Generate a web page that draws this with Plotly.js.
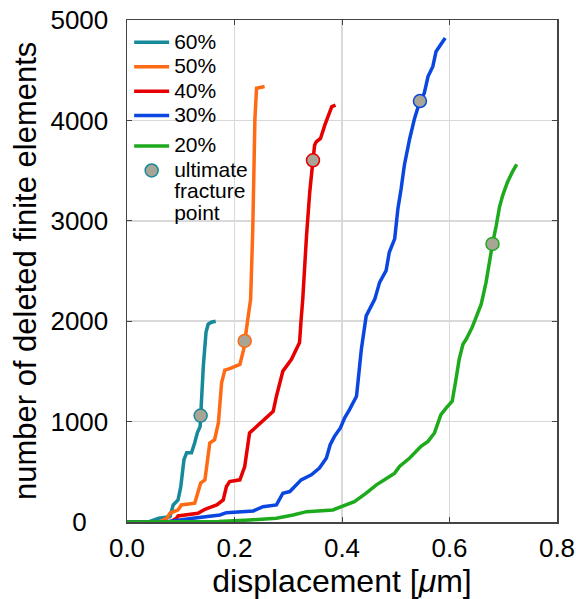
<!DOCTYPE html>
<html>
<head>
<meta charset="utf-8">
<script src="https://cdn.plot.ly/plotly-3.0.1.min.js"></script>
<style>html,body{margin:0;padding:0;background:#fff;}#chart{width:576px;height:599px;}</style>
</head>
<body>
<div id="chart"></div>
<script>
// Series names
const seriesNames = ['60%', '50%', '40%', '30%', '20%'];
const markerName = 'ultimate<br>fracture<br>point';
const yTitle = 'number of deleted finite elements';
const xTitle = 'displacement [<i>μ</i>m]';

// Axis ticks
const yTickVals = [1000, 2000, 3000, 4000, 5000];
const yTickText = ['1000', '2000', '3000', '4000', '5000'];
const yZeroVals = [0];
const yZeroText = ['0'];
const xTickVals = [0, 0.2, 0.4, 0.6, 0.8];
const xTickText = ['0.0', '0.2', '0.4', '0.6', '0.8'];

// 60%
const x60 = [0, 0.040, 0.059, 0.080, 0.086, 0.095, 0.100, 0.106, 0.111, 0.120, 0.126, 0.131, 0.136, 0.137, 0.139, 0.142, 0.147, 0.151, 0.157, 0.165];
const y60 = [0, 0, 37, 53, 170, 220, 350, 620, 690, 690, 790, 890, 950, 1060, 1220, 1550, 1890, 1970, 1990, 2000];

// 50%
const x50 = [0, 0.060, 0.074, 0.080, 0.095, 0.101, 0.126, 0.132, 0.137, 0.145, 0.151, 0.154, 0.163, 0.170, 0.176, 0.182, 0.191, 0.210, 0.217, 0.219, 0.225, 0.230, 0.234, 0.238, 0.241, 0.256];
const y50 = [0, 0, 37, 87, 120, 170, 187, 287, 387, 420, 653, 787, 820, 987, 1387, 1513, 1527, 1570, 1720, 1803, 2020, 2220, 2920, 4020, 4320, 4337];

// 40%
const x40 = [0, 0.080, 0.092, 0.095, 0.132, 0.145, 0.167, 0.179, 0.185, 0.191, 0.210, 0.219, 0.228, 0.238, 0.250, 0.262, 0.272, 0.278, 0.281, 0.290, 0.306, 0.321, 0.324, 0.327, 0.334, 0.340, 0.346, 0.349, 0.352, 0.360, 0.368, 0.377, 0.381, 0.388];
const y40 = [0, 0, 37, 60, 87, 127, 170, 220, 353, 403, 420, 553, 887, 937, 1003, 1053, 1103, 1253, 1320, 1503, 1620, 1787, 2020, 2220, 2853, 3287, 3603, 3753, 3787, 3820, 3953, 4087, 4137, 4153];

// 30%
const x30 = [0, 0.070, 0.123, 0.173, 0.185, 0.235, 0.253, 0.278, 0.290, 0.303, 0.324, 0.343, 0.358, 0.371, 0.378, 0.386, 0.397, 0.405, 0.414, 0.427, 0.436, 0.445, 0.461, 0.470, 0.482, 0.488, 0.498, 0.504, 0.510, 0.516, 0.526, 0.535, 0.545, 0.553, 0.560, 0.569, 0.575, 0.584, 0.592];
const y30 = [0, 0, 37, 70, 93, 110, 153, 170, 287, 303, 420, 470, 537, 637, 770, 853, 937, 1037, 1120, 1253, 1720, 2053, 2220, 2387, 2503, 2687, 2820, 3120, 3320, 3553, 3820, 4020, 4193, 4270, 4437, 4537, 4687, 4753, 4820];

// 20%
const x20 = [0, 0.170, 0.228, 0.278, 0.309, 0.334, 0.383, 0.408, 0.423, 0.445, 0.464, 0.479, 0.498, 0.507, 0.526, 0.547, 0.560, 0.572, 0.584, 0.594, 0.605, 0.612, 0.618, 0.625, 0.631, 0.642, 0.652, 0.659, 0.668, 0.677, 0.680, 0.687, 0.693, 0.699, 0.708, 0.717, 0.725];
const y20 = [0, 5, 20, 37, 70, 103, 120, 170, 203, 287, 370, 420, 487, 553, 637, 753, 803, 887, 1070, 1137, 1203, 1420, 1620, 1770, 1820, 1937, 2087, 2170, 2387, 2687, 2770, 2953, 3137, 3253, 3387, 3487, 3563];

// Ultimate fracture points (60%, 50%, 40%, 30%, 20%)
const fracX = [0.137, 0.219, 0.346, 0.545, 0.680];
const fracY = [1060, 1803, 3603, 4193, 2770];

const colors = ['#16899a', '#ff6a14', '#e60000', '#0a46e0', '#1daa1d'];
const xs = [x60, x50, x40, x30, x20];
const ys = [y60, y50, y40, y30, y20];

const big = s => '<span style="font-size:21px">' + s + '</span>';

const traces = seriesNames.map((n, i) => ({
  x: xs[i], y: ys[i], type: 'scatter', mode: 'lines', name: big(n),
  line: {color: colors[i], width: 3.5}, legendrank: i + 1,
  legendgroup: i < 4 ? 'a' : 'b'
}));
traces.push({
  x: fracX, y: fracY, type: 'scatter', mode: 'markers', yaxis: 'y2',
  name: markerName.split('<br>').map(big).join('<br>'),
  marker: {size: 13, color: '#a8a596', line: {color: colors, width: 1.5}},
  legendrank: 10, legendgroup: 'b'
});

const layout = {
  width: 576, height: 599,
  margin: {l: 127, r: 19, t: 20, b: 77},
  paper_bgcolor: '#fff', plot_bgcolor: '#fff',
  font: {family: 'Liberation Sans, Arial, sans-serif', color: '#000'},
  showlegend: true,
  legend: {x: 0.005, y: 0.99, xanchor: 'left', yanchor: 'top', bgcolor: 'rgba(0,0,0,0)',
           font: {size: 16.5}, valign: 'top', tracegroupgap: 6, itemwidth: 35,
           traceorder: 'grouped'},
  xaxis: {
    range: [0, 0.8], tickvals: xTickVals, ticktext: xTickText,
    showgrid: true, gridcolor: '#d9d9d9', gridwidth: 1.5, zeroline: false,
    showline: true, linecolor: '#444', linewidth: 1.5, mirror: 'ticks',
    ticks: 'inside', ticklen: 5, tickcolor: '#444',
    tickfont: {size: 26}, ticklabelstandoff: 2,
    title: {text: xTitle, font: {size: 32}, standoff: 4}
  },
  yaxis: {
    range: [0, 5000], tickvals: yTickVals, ticktext: yTickText,
    showgrid: true, gridcolor: '#d9d9d9', gridwidth: 1.5, zeroline: false,
    showline: true, linecolor: '#444', linewidth: 1.5, mirror: 'ticks',
    ticks: 'inside', ticklen: 5, tickcolor: '#444',
    tickfont: {size: 26}, ticklabelstandoff: 12
  },
  yaxis2: {
    range: [0, 5000], overlaying: 'y', side: 'left', anchor: 'x',
    tickvals: yZeroVals, ticktext: yZeroText,
    showgrid: false, zeroline: false, showline: false,
    ticks: 'outside', ticklen: 34, tickcolor: 'rgba(0,0,0,0)', tickwidth: 1,
    tickfont: {size: 26}
  },
  annotations: [{
    text: yTitle, xref: 'paper', yref: 'paper', x: -0.237, y: 0.5,
    xanchor: 'center', yanchor: 'middle', textangle: -90, showarrow: false,
    font: {size: 31}
  }]
};

Plotly.newPlot('chart', traces, layout, {displayModeBar: false, staticPlot: true});
</script>
</body>
</html>
